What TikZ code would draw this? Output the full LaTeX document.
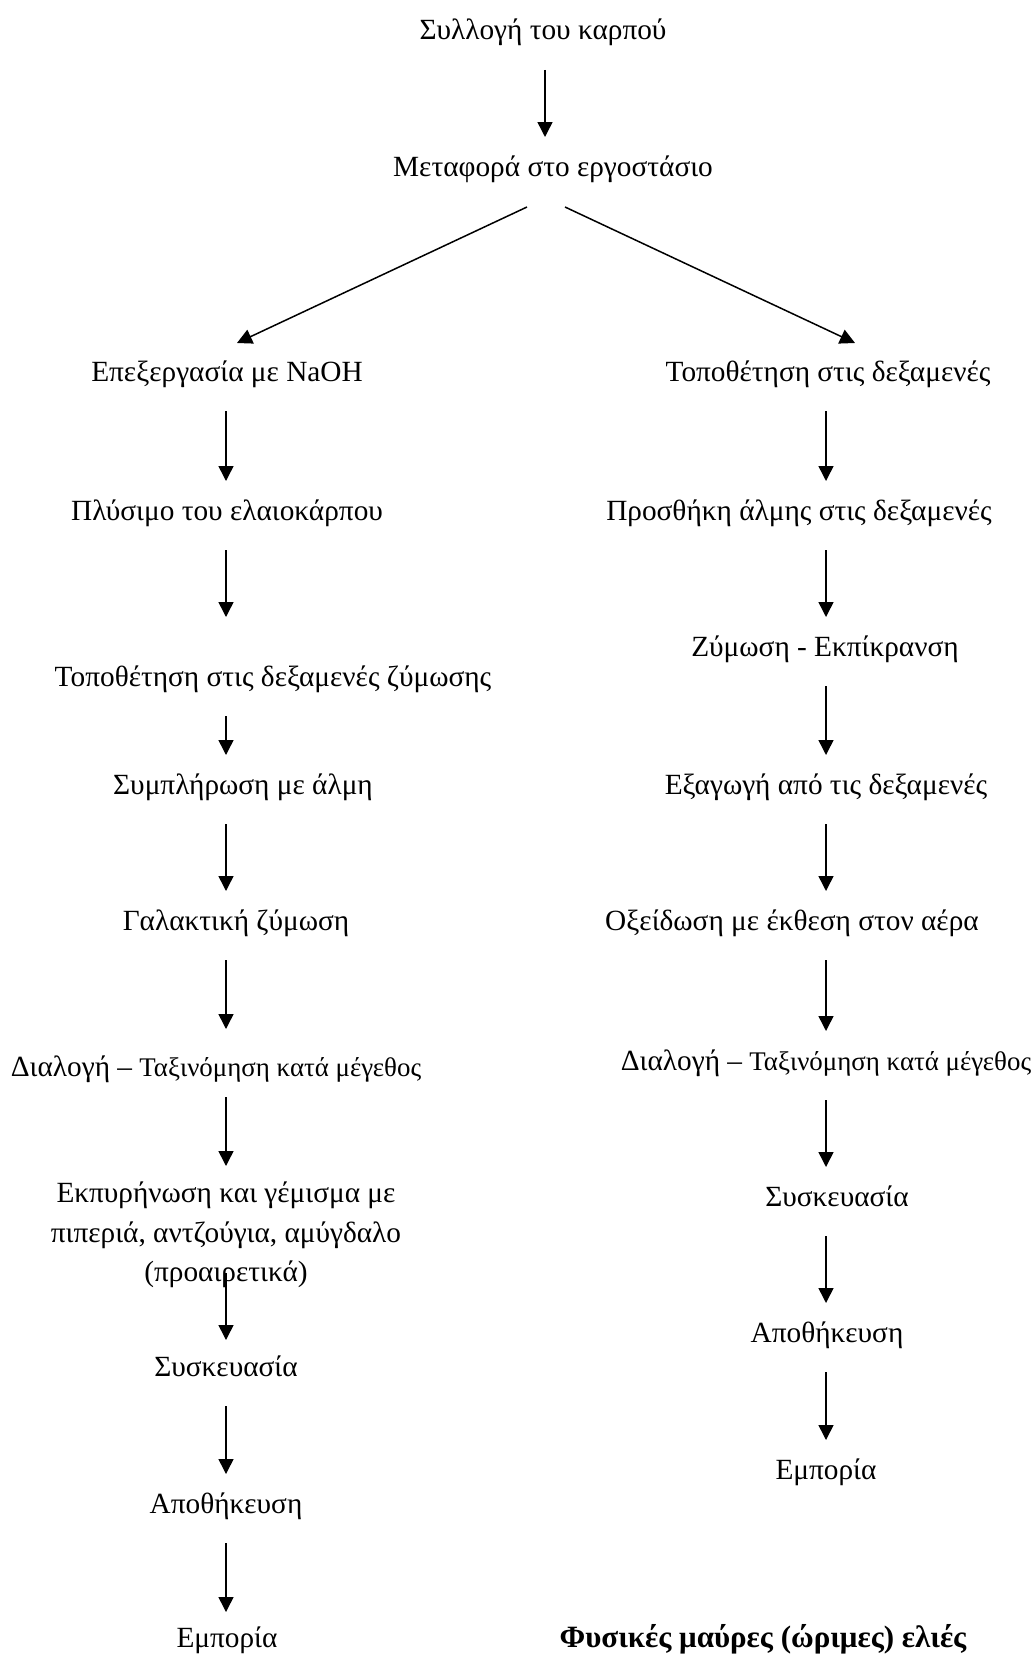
\documentclass[tikz,border=0pt]{standalone}
\usepackage{fontspec}
\setmainfont{Liberation Serif}
\usetikzlibrary{arrows.meta}

\begin{document}
\begin{tikzpicture}[
	x=1pt, y=-1pt,
	node style/.style={
		inner sep=0pt,
		text height=20pt,
		text depth=0pt,
		font=\fontsize{29.3}{39.5}\selectfont
	},
	multi style/.style={
		inner sep=0pt,
		align=center,
		font=\fontsize{29.3}{39.5}\selectfont
	},
	>={Triangle[width=15pt,length=15pt]},
	flow/.style={->, line width=1.5pt, shorten <=40pt, shorten >=29pt},
	branch/.style={->, line width=1.5pt}
	]
	\useasboundingbox (0,0) rectangle (1033,1654);
	
	% columns of the arrows
	\coordinate (mcol) at (545,0);
	\coordinate (lcol) at (226,0);
	\coordinate (rcol) at (826,0);
	
	\node[node style] (top1) at (543,30) {Συλλογή του καρπού};
	\node[node style] (top2) at (553,166) {Μεταφορά στο εργοστάσιο};
	
	% left branch
	\node[node style] (green1) at (227,371) {Επεξεργασία με NaOH};
	\node[node style] (green2) at (227,510) {Πλύσιμο του ελαιοκάρπου};
	\node[node style] (green3) at (273,676) {Τοποθέτηση στις δεξαμενές ζύμωσης};
	\node[node style] (green4) at (243,784) {Συμπλήρωση με άλμη};
	\node[node style] (green5) at (236,920) {Γαλακτική ζύμωση};
	\node[node style] (green6) at (216,1066)
	{Διαλογή – {\fontsize{26.9}{33}\selectfont Ταξινόμηση κατά μέγεθος}};
	\node[multi style] (green7) at (226,1235)
	{Εκπυρήνωση και γέμισμα με\\
		πιπεριά, αντζούγια, αμύγδαλο\\
		(προαιρετικά)};
	\node[node style] (green8) at (226,1366) {Συσκευασία};
	\node[node style] (green9) at (226,1503) {Αποθήκευση};
	\node[node style] (green10) at (227,1637) {Εμπορία};
	
	% right branch
	\node[node style] (black1) at (828,371) {Τοποθέτηση στις δεξαμενές};
	\node[node style] (black2) at (799,510) {Προσθήκη άλμης στις δεξαμενές};
	\node[node style] (black3) at (825,646) {Ζύμωση - Εκπίκρανση};
	\node[node style] (black4) at (826,784) {Εξαγωγή από τις δεξαμενές};
	\node[node style] (black5) at (792,920) {Οξείδωση με έκθεση στον αέρα};
	\node[node style] (black6) at (826,1060)
	{Διαλογή – {\fontsize{26.9}{33}\selectfont Ταξινόμηση κατά μέγεθος}};
	\node[node style] (black7) at (837,1196) {Συσκευασία};
	\node[node style] (black8) at (827,1332) {Αποθήκευση};
	\node[node style] (black9) at (826,1469) {Εμπορία};
	
	\node[node style, font=\fontsize{31}{39.5}\selectfont\bfseries] (title) at (763,1637)
	{Φυσικές μαύρες (ώριμες) ελιές};
	
	\draw[flow] (top1 -| mcol) -- (top2 -| mcol);
	\draw[branch] ([xshift=-26pt,yshift=-41pt]top2.center) -- ([xshift=10pt,yshift=28pt]green1.center);
	\draw[branch] ([xshift=12pt,yshift=-41pt]top2.center) -- ([xshift=27pt,yshift=28pt]black1.center);
	
	\draw[flow] (green1 -| lcol) -- (green2 -| lcol);
	\draw[flow, shorten >=59pt] (green2 -| lcol) -- (green3 -| lcol);
	\draw[flow] (green3 -| lcol) -- (green4 -| lcol);
	\draw[flow] (green4 -| lcol) -- (green5 -| lcol);
	\draw[flow, shorten >=37pt] (green5 -| lcol) -- (green6 -| lcol);
	\draw[flow, shorten <=31pt, shorten >=69pt] (green6 -| lcol) -- (green7 -| lcol);
	\draw[flow, shorten <=38pt, shorten >=26pt] (green7 -| lcol) -- (green8 -| lcol);
	\draw[flow] (green8 -| lcol) -- (green9 -| lcol);
	\draw[flow, shorten >=25pt] (green9 -| lcol) -- (green10 -| lcol);
	
	\draw[flow] (black1 -| rcol) -- (black2 -| rcol);
	\draw[flow] (black2 -| rcol) -- (black3 -| rcol);
	\draw[flow] (black3 -| rcol) -- (black4 -| rcol);
	\draw[flow] (black4 -| rcol) -- (black5 -| rcol);
	\draw[flow] (black5 -| rcol) -- (black6 -| rcol);
	\draw[flow] (black6 -| rcol) -- (black7 -| rcol);
	\draw[flow] (black7 -| rcol) -- (black8 -| rcol);
	\draw[flow] (black8 -| rcol) -- (black9 -| rcol);
	
\end{tikzpicture}
\end{document}
